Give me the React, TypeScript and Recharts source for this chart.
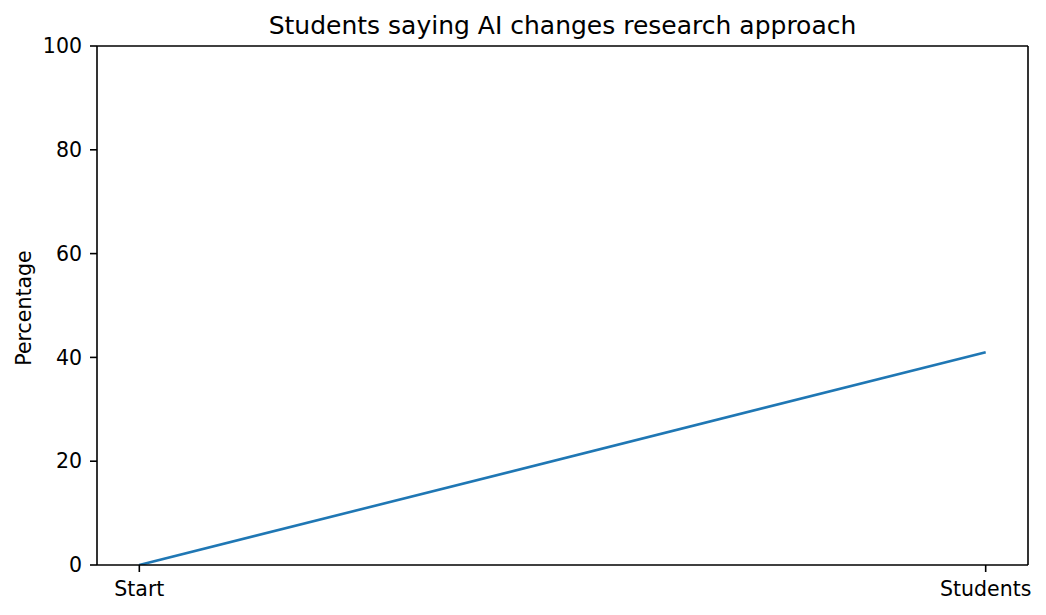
import React from 'react';
import { LineChart, Line, XAxis, YAxis, ReferenceLine } from 'recharts';

const categories = ['Start', 'Students'];
const values = [0, 41];
const yTicks = [0, 20, 40, 60, 80, 100];
const title = 'Students saying AI changes research approach';
const yLabel = 'Percentage';

const data = categories.map((c, i) => ({ x: i, name: c, value: values[i] }));

const FONT = '"DejaVu Sans", sans-serif';
const AX = '#000';

export default function App() {
  return (
    <div style={{ position: 'absolute', left: 0, top: 0, width: 1046, height: 615, background: '#fff' }}>
      <LineChart width={1046} height={615} data={data} margin={{ top: 46, right: 18, bottom: 0, left: 0 }}>
        <XAxis
          dataKey="x"
          type="number"
          domain={[-0.05, 1.05]}
          allowDataOverflow
          ticks={[0, 1]}
          tickFormatter={(v: number) => categories[v] ?? ''}
          height={50}
          tickSize={7}
          tickMargin={9}
          axisLine={{ stroke: AX, strokeWidth: 1.6 }}
          tickLine={{ stroke: AX, strokeWidth: 1.6 }}
          tick={{ fill: '#000', fontSize: 20.5, fontFamily: FONT }}
          interval={0}
        />
        <YAxis
          type="number"
          domain={[0, 100]}
          allowDataOverflow
          ticks={yTicks}
          width={97}
          tickSize={7}
          tickMargin={8}
          axisLine={{ stroke: AX, strokeWidth: 1.6 }}
          tickLine={{ stroke: AX, strokeWidth: 1.6 }}
          tick={{ fill: '#000', fontSize: 20.5, fontFamily: FONT }}
          interval={0}
        />
        <ReferenceLine y={100} stroke={AX} strokeWidth={1.6} />
        <ReferenceLine x={1.05} stroke={AX} strokeWidth={1.6} />
        <Line
          type="linear"
          dataKey="value"
          stroke="#1f77b4"
          strokeWidth={2.6}
          dot={false}
          isAnimationActive={false}
        />
      </LineChart>
      <svg width={1046} height={615} style={{ position: 'absolute', left: 0, top: 0, pointerEvents: 'none' }}>
        <text x={562.5} y={34} textAnchor="middle" fontFamily={FONT} fontSize={25} fill="#000">
          {title}
        </text>
        <text
          x={0}
          y={0}
          transform="translate(31,308) rotate(-90)"
          textAnchor="middle"
          fontFamily={FONT}
          fontSize={20.5}
          fill="#000"
        >
          {yLabel}
        </text>
      </svg>
    </div>
  );
}
